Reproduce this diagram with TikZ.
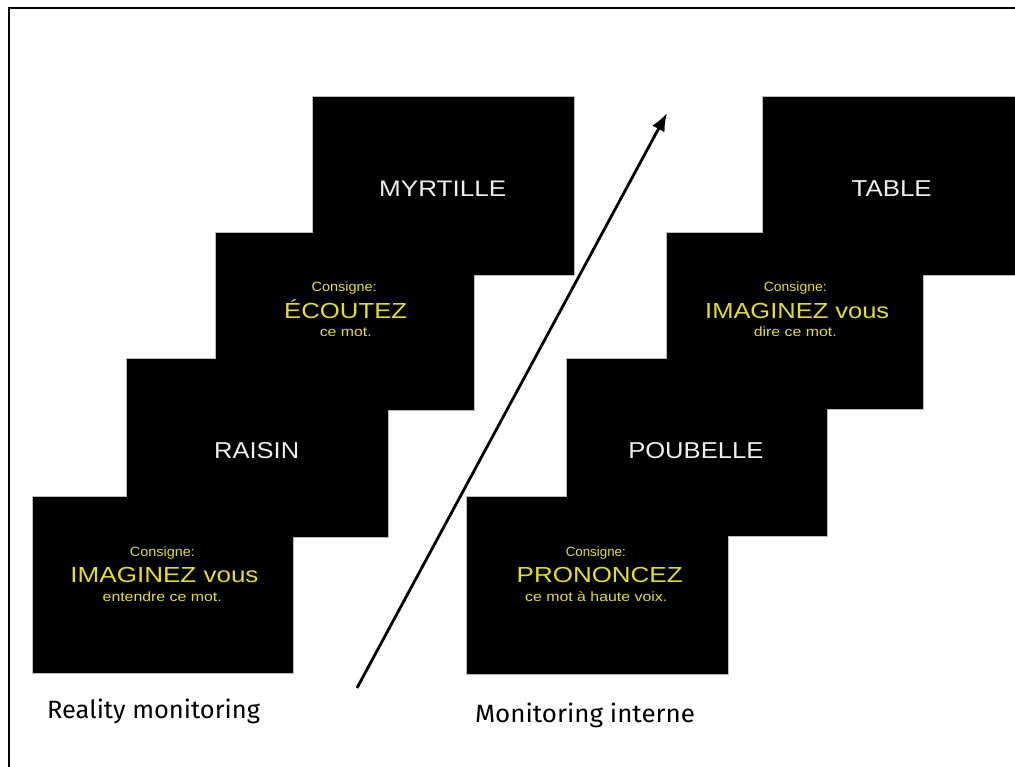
\documentclass[tikz,border=0pt]{standalone}
\usepackage{fontspec}
\setmainfont{Liberation Sans}
\newfontfamily\comicfont{Fira Sans}
\usetikzlibrary{arrows.meta}
\definecolor{slideyellow}{RGB}{226,220,48}
\definecolor{slidewhite}{RGB}{238,238,238}
\newcommand\fitw[3]{\resizebox{#1pt}{\height}{\fontsize{#2}{#2}\selectfont #3}}
\tikzset{
  slide/.style={draw=none,inner sep=0pt},
  slideedge/.style={draw=gray!55,line width=1.2pt},
  txt/.style={inner sep=0pt,anchor=base},
  ytxt/.style={txt,text=slideyellow},
  wtxt/.style={txt,text=slidewhite},
  lbl/.style={txt,text=black},
  bigarrow/.style={line width=2.8pt,-{Latex[length=18pt,width=14pt]}},
  frameline/.style={line width=1.6pt,black}
}
\begin{document}
\begin{tikzpicture}[x=1pt,y=-1pt]
\useasboundingbox (0,0) rectangle (1015,767);
\clip (0,0) rectangle (1015,767);
\fill[white] (0,0) rectangle (1015,767);
% frame
\coordinate (fr1) at (1015,8);
\coordinate (fr2) at (9,8);
\coordinate (fr3) at (9,767);
\draw[frameline] (fr1) -- (fr2) -- (fr3);
% slides
\node[slide,minimum width=260pt,minimum height=176pt] (L1) at (163,585) {};
\node[slide,minimum width=261pt,minimum height=178pt] (L2) at (257.5,448) {};
\node[slide,minimum width=258pt,minimum height=177pt] (L3) at (345,321.5) {};
\node[slide,minimum width=261pt,minimum height=178pt] (L4) at (443.5,186) {};
\node[slide,minimum width=261pt,minimum height=177pt] (R1) at (597.5,585.5) {};
\node[slide,minimum width=260pt,minimum height=177pt] (R2) at (697,447.5) {};
\node[slide,minimum width=256pt,minimum height=176pt] (R3) at (795,321) {};
\node[slide,minimum width=260pt,minimum height=178pt] (R4) at (893,186) {};
\foreach \n in {L1,L2,L3,L4,R1,R2,R3,R4}
  \draw[slideedge] (\n.south west) rectangle (\n.north east);
\foreach \n in {L1,L2,L3,L4,R1,R2,R3,R4}
  \fill[black] (\n.south west) rectangle (\n.north east);
% left stack texts
\node[ytxt] (l1a) at (162.5,556.7) {\fitw{65}{13.4}{Consigne:}};
\node[ytxt] (l1b) at (164.5,582.7) {\fitw{188}{21.8}{IMAGINEZ vous}};
\node[ytxt] (l1c) at (162.2,601) {\fitw{119}{13.4}{entendre ce mot.}};
\node[wtxt] (l2a) at (256.7,458.3) {\fitw{85}{23}{RAISIN}};
\node[ytxt] (l3a) at (344.2,291.7) {\fitw{65}{13.4}{Consigne:}};
\node[ytxt] (l3b) at (345.7,318.3) {\fitw{123}{21.8}{ÉCOUTEZ}};
\node[ytxt] (l3c) at (345.8,336.7) {\fitw{52}{13.4}{ce mot.}};
\node[wtxt] (l4a) at (442.7,196.7) {\fitw{127}{22.5}{MYRTILLE}};
% right stack texts
\node[ytxt] (r1a) at (595.8,556.5) {\fitw{60}{13.4}{Consigne:}};
\node[ytxt] (r1b) at (599.7,582.7) {\fitw{166}{21.8}{PRONONCEZ}};
\node[ytxt] (r1c) at (596.2,601) {\fitw{142}{13.4}{ce mot à haute voix.}};
\node[wtxt] (r2a) at (695.8,458.3) {\fitw{135}{23}{POUBELLE}};
\node[ytxt] (r3a) at (795.3,291.7) {\fitw{63}{13.4}{Consigne:}};
\node[ytxt] (r3b) at (797.2,318.3) {\fitw{184}{21.8}{IMAGINEZ vous}};
\node[ytxt] (r3c) at (795.3,336.7) {\fitw{83}{13.4}{dire ce mot.}};
\node[wtxt] (r4a) at (891.7,196.7) {\fitw{80}{23}{TABLE}};
% arrow
\coordinate (as) at (357,688);
\coordinate (ae) at (667,113);
\draw[bigarrow] (as) -- (ae);
% labels
\node[lbl] (lab1) at (153.5,718.3) {\fitw{213}{25}{\comicfont Reality monitoring}};
\node[lbl] (lab2) at (585,722.7) {\fitw{220}{25}{\comicfont Monitoring interne}};
\end{tikzpicture}
\end{document}
